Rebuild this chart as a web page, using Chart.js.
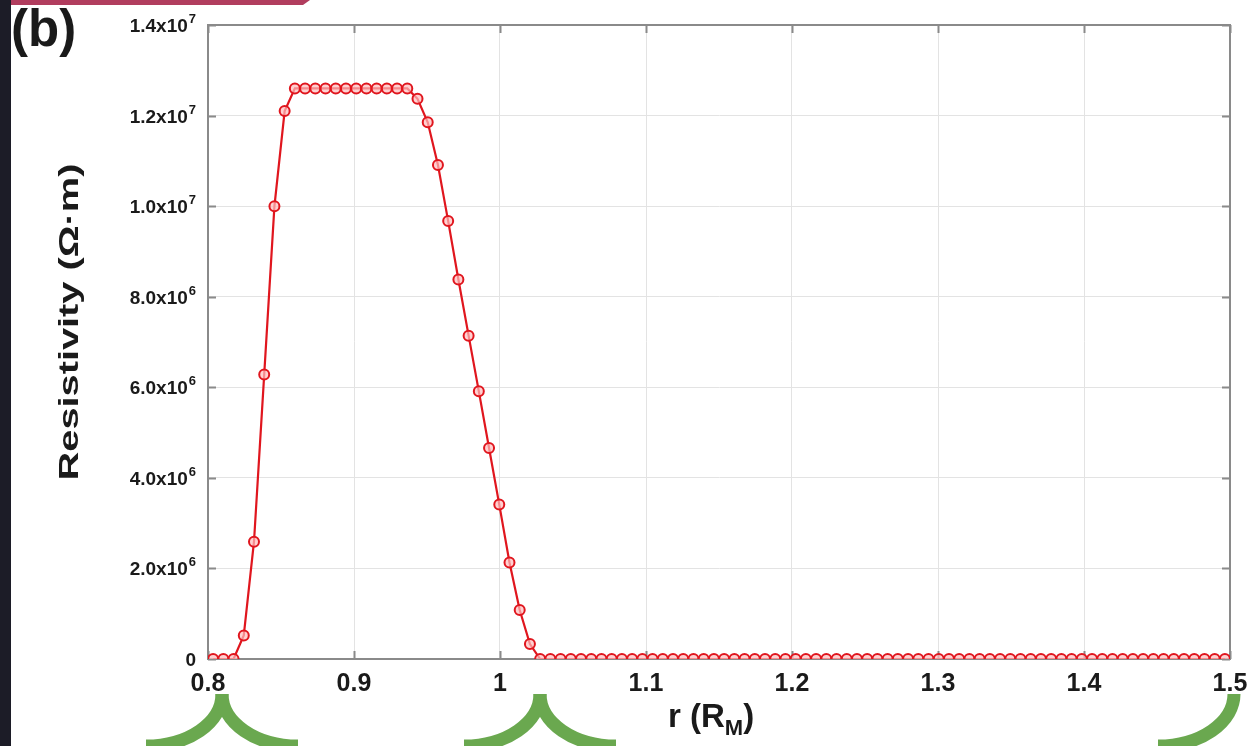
<!DOCTYPE html>
<html>
<head>
<meta charset="utf-8">
<title>Resistivity profile</title>
<script src="https://cdn.jsdelivr.net/npm/chart.js"></script>
<style>
  html, body { margin: 0; padding: 0; background: #fff; }
  #wrap { position: relative; width: 1249px; height: 746px; overflow: hidden; }
  #myChart { position: absolute; left: 0; top: 0; }
  .lbl { position: absolute; font-family: 'Liberation Sans', Arial, sans-serif; font-weight: bold; color: #1a1a1a; white-space: nowrap; }
  #panel { left: 11px; top: -1px; font-size: 51px; }
  #xTitle { left: 668px; top: 697px; font-size: 33px; }
  #xTitle sub { font-size: 22px; vertical-align: -8px; }
</style>
</head>
<body>
<div id="wrap">
  <canvas id="myChart" width="1249" height="746"></canvas>
  <div class="lbl" id="panel">(b)</div>
  <div class="lbl" id="xTitle">r (R<sub>M</sub>)</div>
</div>
<script>
'use strict';
// radial distance in units of R_M
let radius = [
  0.8035, 0.8105, 0.8175, 0.8245, 0.8315, 0.8385, 0.8455, 0.8525, 0.8595, 0.8665,
  0.8735, 0.8805, 0.8875, 0.8945, 0.9015, 0.9085, 0.9155, 0.9225, 0.9295, 0.9365,
  0.9435, 0.9505, 0.9575, 0.9645, 0.9715, 0.9785, 0.9855, 0.9925, 0.9995, 1.0065,
  1.0135, 1.0205, 1.0275, 1.0345, 1.0415, 1.0485, 1.0555, 1.0625, 1.0695, 1.0765,
  1.0835, 1.0905, 1.0975, 1.1045, 1.1115, 1.1185, 1.1255, 1.1325, 1.1395, 1.1465,
  1.1535, 1.1605, 1.1675, 1.1745, 1.1815, 1.1885, 1.1955, 1.2025, 1.2095, 1.2165,
  1.2235, 1.2305, 1.2375, 1.2445, 1.2515, 1.2585, 1.2655, 1.2725, 1.2795, 1.2865,
  1.2935, 1.3005, 1.3075, 1.3145, 1.3215, 1.3285, 1.3355, 1.3425, 1.3495, 1.3565,
  1.3635, 1.3705, 1.3775, 1.3845, 1.3915, 1.3985, 1.4055, 1.4125, 1.4195, 1.4265,
  1.4335, 1.4405, 1.4475, 1.4545, 1.4615, 1.4685, 1.4755, 1.4825, 1.4895, 1.4965
];
// resistivity in ohm*m
let resistivity = [
  0, 0, 0, 0.52e6, 2.59e6, 6.28e6, 10.0e6, 12.1e6, 12.6e6, 12.6e6,
  12.6e6, 12.6e6, 12.6e6, 12.6e6, 12.6e6, 12.6e6, 12.6e6, 12.6e6, 12.6e6, 12.6e6,
  12.37e6, 11.85e6, 10.91e6, 9.67e6, 8.38e6, 7.14e6, 5.91e6, 4.66e6, 3.41e6, 2.13e6,
  1.08e6, 0.33e6, 0, 0, 0, 0, 0, 0, 0, 0,
  0, 0, 0, 0, 0, 0, 0, 0, 0, 0,
  0, 0, 0, 0, 0, 0, 0, 0, 0, 0,
  0, 0, 0, 0, 0, 0, 0, 0, 0, 0,
  0, 0, 0, 0, 0, 0, 0, 0, 0, 0,
  0, 0, 0, 0, 0, 0, 0, 0, 0, 0,
  0, 0, 0, 0, 0, 0, 0, 0, 0, 0
];
let xTicks = [0.8, 0.9, 1.0, 1.1, 1.2, 1.3, 1.4, 1.5];
let yTicks = [0, 2e6, 4e6, 6e6, 8e6, 10e6, 12e6, 14e6];
let yTitle = 'Resistivity (\u03A9\u00B7m)';

let points = [];
for (let i = 0; i < radius.length; i++) {
    points.push({ x: radius[i], y: resistivity[i] });
}

// split a tick value into "1.4x10" and "7"
function sciParts(v) {
    if (v === 0) return ['0', ''];
    let exp = Math.floor(Math.log10(v) + 1e-9);
    return [(v / Math.pow(10, exp)).toFixed(1) + 'x10', String(exp)];
}

let fontFamily = "'Liberation Sans', Arial, sans-serif";
let axisGrey = '#8a8a8a';
let textColor = '#1a1a1a';

let decor = {
    id: 'decor',
    beforeDraw(chart) {
        let ctx = chart.ctx;
        ctx.save();
        ctx.fillStyle = '#ffffff';
        ctx.fillRect(0, 0, chart.width, chart.height);
        ctx.fillStyle = '#1c1c27';
        ctx.fillRect(0, 0, 11, chart.height);
        ctx.fillStyle = '#b13d5e';
        ctx.beginPath();
        ctx.moveTo(11, 0);
        ctx.lineTo(310, 0);
        ctx.lineTo(303, 5);
        ctx.lineTo(11, 5);
        ctx.closePath();
        ctx.fill();
        ctx.restore();
    },
    beforeDatasetsDraw(chart) {
        let ctx = chart.ctx;
        let a = chart.chartArea;
        let xs = chart.scales.x, ys = chart.scales.y;
        ctx.save();
        ctx.strokeStyle = axisGrey;
        ctx.lineWidth = 2;
        ctx.strokeRect(a.left, a.top, a.right - a.left, a.bottom - a.top);
        ctx.beginPath();
        xTicks.forEach(t => {
            let px = Math.round(xs.getPixelForValue(t)) + 0.5;
            ctx.moveTo(px, a.bottom); ctx.lineTo(px, a.bottom - 8);
            ctx.moveTo(px, a.top); ctx.lineTo(px, a.top + 8);
        });
        yTicks.forEach(t => {
            let py = Math.round(ys.getPixelForValue(t)) + 0.5;
            ctx.moveTo(a.left, py); ctx.lineTo(a.left + 8, py);
            ctx.moveTo(a.right, py); ctx.lineTo(a.right - 8, py);
        });
        ctx.stroke();
        ctx.restore();
    },
    afterDraw(chart) {
        let ctx = chart.ctx;
        let a = chart.chartArea;
        let ys = chart.scales.y;
        ctx.save();

        // y tick labels with superscript exponent
        ctx.fillStyle = textColor;
        ctx.textBaseline = 'alphabetic';
        let rightEdge = a.left - 12;
        yTicks.forEach(t => {
            let parts = sciParts(t);
            let py = ys.getPixelForValue(t);
            ctx.font = 'bold 13px ' + fontFamily;
            let expW = ctx.measureText(parts[1]).width;
            ctx.textAlign = 'right';
            ctx.fillText(parts[1], rightEdge, py - 2);
            ctx.font = 'bold 19px ' + fontFamily;
            ctx.fillText(parts[0], rightEdge - expW - (parts[1] ? 1 : 0), py + 7);
        });

        // y axis title, drawn wide like the original
        ctx.save();
        ctx.translate(70, (a.top + a.bottom) / 2 - 20);
        ctx.rotate(-Math.PI / 2);
        ctx.scale(1.42, 1);
        ctx.font = 'bold 28px ' + fontFamily;
        ctx.textAlign = 'center';
        ctx.textBaseline = 'middle';
        ctx.fillText(yTitle, 0, 0);
        ctx.restore();

        // green brace ends under the axis
        ctx.strokeStyle = '#6aa84f';
        ctx.lineWidth = 13;
        function cusp(cx, left, right) {
            if (left) {
                ctx.beginPath();
                ctx.ellipse(cx - 76, 694, 76, 52, 0, 0, Math.PI / 2);
                ctx.stroke();
            }
            if (right) {
                ctx.beginPath();
                ctx.ellipse(cx + 76, 694, 76, 52, 0, Math.PI / 2, Math.PI);
                ctx.stroke();
            }
        }
        cusp(222, true, true);
        cusp(540, true, true);
        cusp(1234, true, false);
        ctx.restore();
    }
};

let ctx = document.getElementById('myChart').getContext('2d');
let myChart = new Chart(ctx, {
    type: 'line',
    data: {
        datasets: [{
            data: points,
            borderColor: '#e0161e',
            borderWidth: 2.2,
            pointStyle: 'circle',
            pointRadius: 5,
            pointBorderWidth: 2,
            pointBorderColor: '#e0161e',
            pointBackgroundColor: 'rgba(255,190,190,0.7)',
            tension: 0
        }]
    },
    options: {
        responsive: false,
        animation: false,
        layout: { padding: { left: 11, right: 19, top: 25, bottom: 0 } },
        plugins: {
            legend: { display: false },
            tooltip: { enabled: false }
        },
        scales: {
            x: {
                type: 'linear',
                min: 0.8,
                max: 1.5,
                afterBuildTicks: s => { s.ticks = xTicks.map(v => ({ value: v })); },
                afterFit: s => { s.height = 87; s.paddingLeft = 0; s.paddingRight = 0; },
                ticks: {
                    padding: 10,
                    color: textColor,
                    font: { family: fontFamily, size: 25, weight: 'bold' },
                    maxRotation: 0,
                    callback: v => Number(v.toFixed(1)).toString()
                },
                grid: { color: '#e3e3e3', lineWidth: 1, drawTicks: false },
                border: { color: axisGrey, width: 2 }
            },
            y: {
                min: 0,
                max: 14e6,
                afterBuildTicks: s => { s.ticks = yTicks.map(v => ({ value: v })); },
                afterFit: s => { s.width = 197; },
                ticks: { display: false },
                grid: { color: '#e3e3e3', lineWidth: 1, drawTicks: false },
                border: { color: axisGrey, width: 2 }
            }
        }
    },
    plugins: [decor]
});
</script>
</body>
</html>
